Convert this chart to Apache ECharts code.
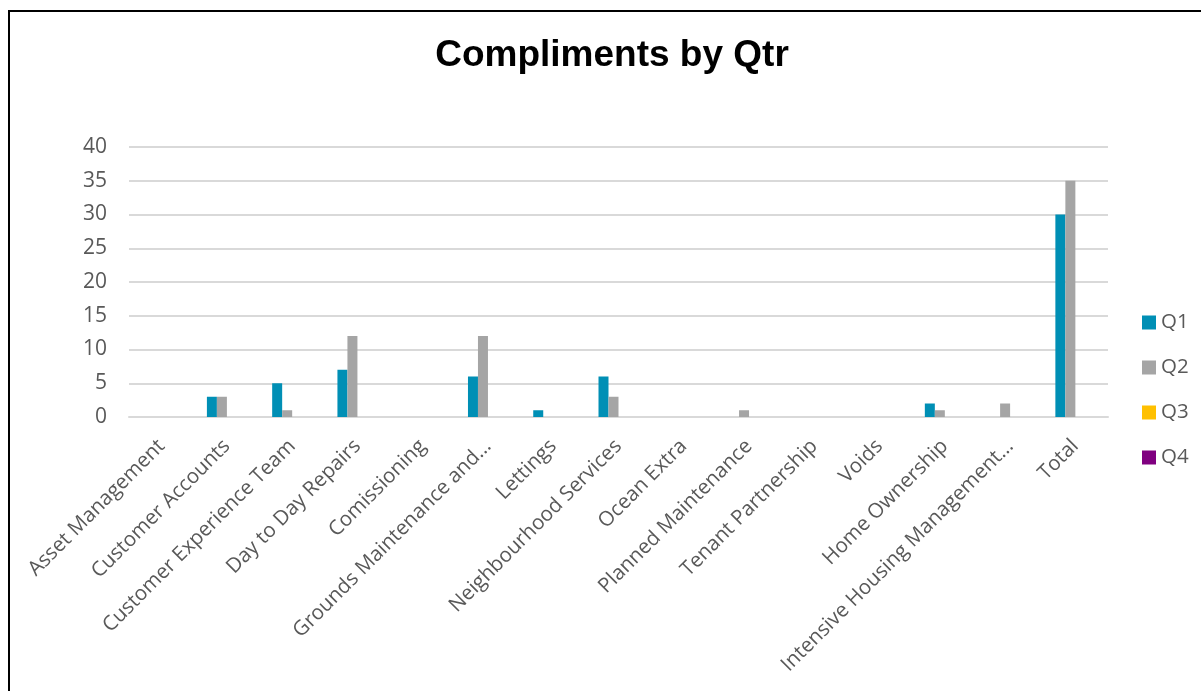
<!DOCTYPE html>
<html>
<head>
<meta charset="utf-8">
<script src="https://cdn.jsdelivr.net/npm/echarts@6/dist/echarts.min.js"></script>
<style>
  html, body { margin: 0; padding: 0; background: #fff; }
  #chart { width: 1201px; height: 691px; }
  #frame {
    position: absolute; left: 8px; top: 10px;
    width: 1300px; height: 800px;
    border: 2px solid #000; pointer-events: none;
  }
</style>
</head>
<body>
<div id="chart"></div>
<div id="frame"></div>
<script>
const categories = [
  "Asset Management", "Customer Accounts", "Customer Experience Team",
  "Day to Day Repairs", "Comissioning", "Grounds Maintenance and…",
  "Lettings", "Neighbourhood Services", "Ocean Extra", "Planned Maintenance",
  "Tenant Partnership", "Voids", "Home Ownership",
  "Intensive Housing Management…", "Total"
];
const q1 = [0, 3, 5, 7, 0, 6, 1, 6, 0, 0, 0, 0, 2, 0, 30];
const q2 = [0, 3, 1, 12, 0, 12, 0, 3, 0, 1, 0, 0, 1, 2, 35];
const q3 = [0, 0, 0, 0, 0, 0, 0, 0, 0, 0, 0, 0, 0, 0, 0];
const q4 = [0, 0, 0, 0, 0, 0, 0, 0, 0, 0, 0, 0, 0, 0, 0];
const yTicks = { min: 0, max: 40, interval: 5 };

const seriesColors = ["#008FB5", "#A5A5A5", "#FFC000", "#800080"];
const labelFont = "'Open Sans', sans-serif";

const chart = echarts.init(document.getElementById("chart"));

const makeSeries = (name, data, i) => ({
  name,
  type: "bar",
  data,
  barWidth: 10,
  barGap: "0%",
  itemStyle: { color: seriesColors[i] },
  animation: false,
});

chart.setOption({
  title: {
    text: "Compliments by Qtr",
    left: 607,
    textAlign: "center",
    top: 32,
    textStyle: {
      fontFamily: "'Liberation Sans', Arial, sans-serif",
      fontSize: 37,
      fontWeight: "bold",
      color: "#000",
    },
  },
  legend: {
    orient: "vertical",
    left: 1137,
    top: 307,
    itemWidth: 14,
    itemHeight: 14,
    itemGap: 24,
    icon: "rect",
    textStyle: {
      fontFamily: labelFont,
      fontSize: 20.5,
      lineHeight: 20,
      color: "#595959",
    },
  },
  grid: {
    left: 129,
    right: 93,
    top: 147,
    bottom: 274,
    containLabel: false,
  },
  xAxis: {
    type: "category",
    data: categories,
    axisTick: { show: false },
    axisLine: { lineStyle: { color: "#d9d9d9", width: 2 } },
    axisLabel: {
      interval: 0,
      rotate: 45,
      margin: 26,
      fontFamily: labelFont,
      fontSize: 20.5,
      color: "#595959",
    },
  },
  yAxis: {
    type: "value",
    min: yTicks.min,
    max: yTicks.max,
    interval: yTicks.interval,
    axisLine: { show: false },
    axisTick: { show: false },
    axisLabel: {
      margin: 22,
      fontFamily: labelFont,
      fontSize: 21,
      color: "#595959",
    },
    splitLine: { lineStyle: { color: "#d9d9d9", width: 2 } },
  },
  series: [
    makeSeries("Q1", q1, 0),
    makeSeries("Q2", q2, 1),
    makeSeries("Q3", q3, 2),
    makeSeries("Q4", q4, 3),
  ],
});
</script>
</body>
</html>
